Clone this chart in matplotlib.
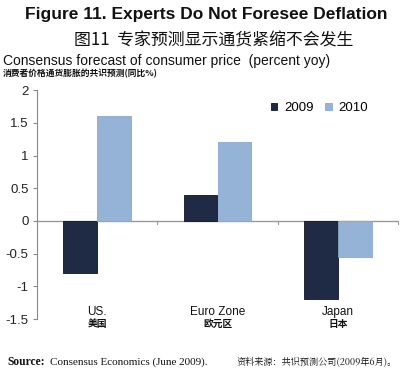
import matplotlib
matplotlib.use("Agg")
import matplotlib.pyplot as plt
import matplotlib.transforms as mtransforms
import numpy as np

plt.rcParams['font.family'] = ['Liberation Sans', 'Noto Sans CJK SC', 'DejaVu Sans']

regions = ["US.", "Euro Zone", "Japan"]
regions_cn = ["美国", "欧元区", "日本"]
years = ["2009", "2010"]
vals_2009 = [-0.8, 0.4, -1.2]
vals_2010 = [1.6, 1.2, -0.55]
yticks = [2, 1.5, 1, 0.5, 0, -0.5, -1, -1.5]
ytick_labels = ["2", "1.5", "1", "0.5", "0", "-0.5", "-1", "-1.5"]

dark = "#1f2a44"
light = "#95b3d7"

fig = plt.figure(figsize=(4.0, 3.74), dpi=100)
ax = fig.add_axes([0.0925, 0.147, 0.9025, 0.612])

x = np.arange(len(regions))
w = 0.28
ax.bar(x - w / 2, vals_2009, w, color=dark, edgecolor="#101520", linewidth=0.6, label=years[0], zorder=3)
ax.bar(x + w / 2, vals_2010, w, color=light, edgecolor="#8aa8d0", linewidth=0.6, label=years[1], zorder=3)

ax.set_xlim(-0.5, len(regions) - 0.5)
ax.set_ylim(-1.5, 2)
ax.set_yticks(yticks)
ax.set_yticklabels(ytick_labels, fontsize=9.5, color="#222222")
ax.tick_params(axis='y', length=3, color="#888888", pad=3)
ax.set_xticks([])
for s in ["top", "right", "bottom"]:
    ax.spines[s].set_visible(False)
ax.spines["left"].set_color("#888888")
ax.spines["left"].set_linewidth(0.8)

# zero line with small tick marks between categories
ax.axhline(0, color="#999999", linewidth=1.0, zorder=2)
for b in np.arange(0.5, len(regions), 1.0):
    ax.plot([b, b], [0, -0.05], color="#999999", linewidth=0.8, zorder=2, clip_on=False)

trans = mtransforms.blended_transform_factory(ax.transData, ax.transAxes)
for i in range(len(regions)):
    ax.text(x[i], 0.03, regions[i], transform=trans, ha="center", va="center", fontsize=8.5, color="#111111")
    ax.text(x[i], -0.022, regions_cn[i], transform=trans, ha="center", va="center", fontsize=7,
            fontweight="bold", family=["Noto Sans CJK SC", "DejaVu Sans"], color="#111111")

leg = ax.legend(loc="upper right", bbox_to_anchor=(0.95, 1.0), ncol=2, frameon=False, fontsize=9.5,
                handlelength=0.5, handleheight=0.5, handletextpad=0.5, columnspacing=0.9)

fig.text(0.515, 0.962, "Figure 11. Experts Do Not Foresee Deflation", ha="center", va="center",
         fontsize=12.5, fontweight="bold", color="#111111")
fig.text(0.535, 0.893, "图11  专家预测显示通货紧缩不会发生", ha="center", va="center",
         fontsize=12.2, family=["Noto Sans CJK SC", "DejaVu Sans"], color="#111111")
fig.text(0.008, 0.836, "Consensus forecast of consumer price  (percent yoy)", ha="left", va="center",
         fontsize=10, color="#111111")
fig.text(0.008, 0.802, "消费者价格通货膨胀的共识预测(同比%)", ha="left", va="center",
         fontsize=6.3, fontweight="bold", family=["Noto Sans CJK SC", "DejaVu Sans"], color="#111111")

fig.text(0.018, 0.032, "Source:", ha="left", va="center", fontsize=8.3,
         fontweight="bold", family="Liberation Serif", color="#111111")
fig.text(0.125, 0.032, "Consensus Economics (June 2009).", ha="left", va="center", fontsize=8,
         family="Liberation Serif", color="#111111")
fig.text(0.592, 0.032, "资料来源：共识预测公司(2009年6月)。", ha="left", va="center", fontsize=6.6,
         family=["Noto Serif CJK SC", "Noto Sans CJK SC", "DejaVu Sans"], color="#111111")

fig.savefig("out.png", dpi=100)
